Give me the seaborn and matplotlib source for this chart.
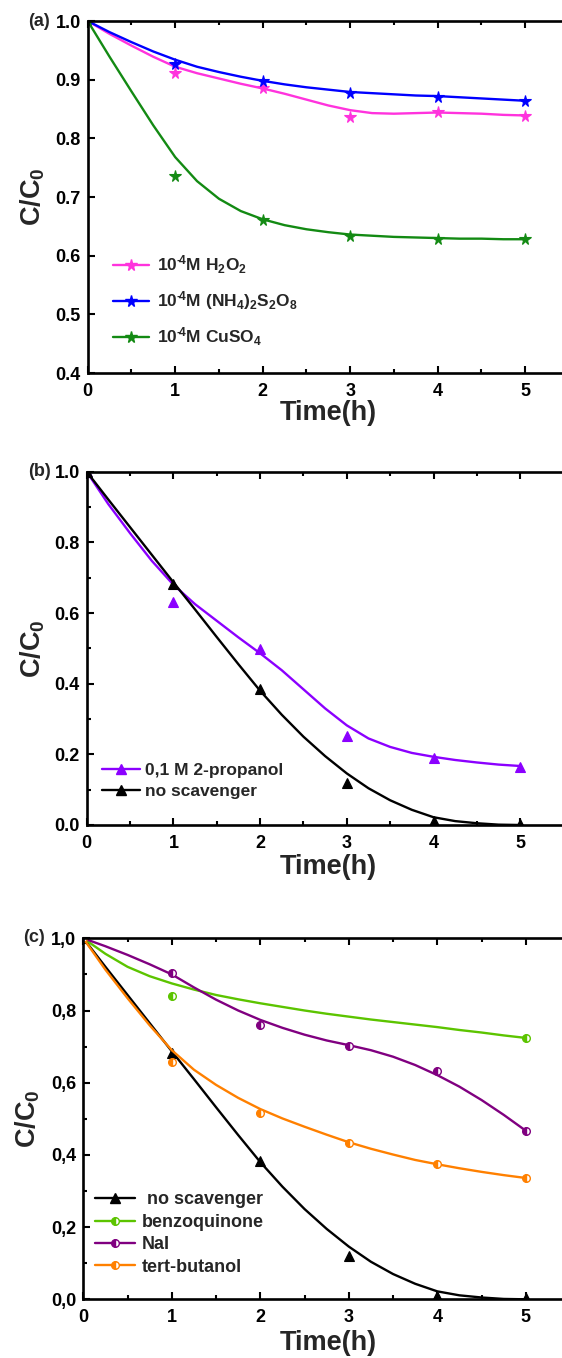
import matplotlib
matplotlib.use("Agg")
import matplotlib.pyplot as plt
import seaborn as sns
from matplotlib.lines import Line2D
from matplotlib.ticker import FixedLocator, MultipleLocator, NullLocator

# ---------------- data ----------------
time_pts = [0, 1, 2, 3, 4, 5]
x_ticks = [0, 1, 2, 3, 4, 5]
x_tick_labels = ["0", "1", "2", "3", "4", "5"]
fit_t = [0, 0.25, 0.5, 0.75, 1, 1.25, 1.5, 1.75, 2, 2.25, 2.5, 2.75, 3, 3.25, 3.5, 3.75, 4, 4.25, 4.5, 4.75, 5]

# panel (a)
a_h2o2 = [1.0, 0.912, 0.886, 0.836, 0.845, 0.838]
a_nh4 = [1.0, 0.927, 0.897, 0.877, 0.871, 0.864]
a_cuso4 = [1.0, 0.735, 0.660, 0.633, 0.629, 0.628]
a_fit_h2o2 = [1.0, 0.978, 0.958, 0.939, 0.922, 0.911, 0.902, 0.893, 0.885, 0.876, 0.866, 0.856, 0.848,
              0.843, 0.842, 0.843, 0.844, 0.843, 0.842, 0.840, 0.839]
a_fit_nh4 = [1.0, 0.981, 0.964, 0.948, 0.934, 0.922, 0.913, 0.905, 0.898, 0.892, 0.887, 0.883, 0.879,
             0.877, 0.875, 0.873, 0.872, 0.870, 0.868, 0.866, 0.864]
a_fit_cuso4 = [1.0, 0.939, 0.880, 0.822, 0.768, 0.727, 0.697, 0.676, 0.662, 0.652, 0.645, 0.640, 0.636,
               0.634, 0.632, 0.631, 0.630, 0.629, 0.629, 0.628, 0.628]
a_labels = ["10$^{\u2010\\!4}$M H$_2$O$_2$", "10$^{\u2010\\!4}$M (NH$_4$)$_2$S$_2$O$_8$",
            "10$^{\u2010\\!4}$M CuSO$_4$"]
a_yticks = [0.4, 0.5, 0.6, 0.7, 0.8, 0.9, 1.0]
a_ytick_labels = ["0.4", "0.5", "0.6", "0.7", "0.8", "0.9", "1.0"]

# panel (b)
b_propanol = [1.0, 0.630, 0.497, 0.251, 0.190, 0.165]
b_none = [1.0, 0.683, 0.385, 0.120, 0.010, 0.004]
b_fit_propanol = [1.0, 0.908, 0.826, 0.748, 0.680, 0.625, 0.578, 0.531, 0.486, 0.438, 0.384, 0.330, 0.282,
                  0.245, 0.221, 0.204, 0.193, 0.184, 0.177, 0.171, 0.167]
b_fit_none = [1.0, 0.921, 0.843, 0.765, 0.687, 0.610, 0.532, 0.455, 0.380, 0.312, 0.250, 0.195, 0.146,
              0.104, 0.070, 0.043, 0.022, 0.011, 0.005, 0.001, 0.0]
b_labels = ["0,1 M 2-propanol", "no scavenger"]
b_yticks = [0.0, 0.2, 0.4, 0.6, 0.8, 1.0]
b_ytick_labels = ["0.0", "0.2", "0.4", "0.6", "0.8", "1.0"]

# panel (c)
c_none = [1.0, 0.681, 0.383, 0.119, 0.010, 0.004]
c_benzo_t = [0, 1, 5]
c_benzo = [1.0, 0.839, 0.723]
c_nai = [1.0, 0.904, 0.761, 0.702, 0.632, 0.466]
c_tbut = [1.0, 0.657, 0.516, 0.434, 0.374, 0.336]
c_fit_none = [1.0, 0.921, 0.843, 0.765, 0.687, 0.610, 0.532, 0.455, 0.380, 0.312, 0.250, 0.195, 0.146,
              0.104, 0.070, 0.043, 0.022, 0.011, 0.005, 0.001, 0.0]
c_fit_benzo = [1.0, 0.957, 0.921, 0.895, 0.875, 0.858, 0.843, 0.831, 0.820, 0.810, 0.800, 0.791, 0.783,
               0.775, 0.768, 0.761, 0.754, 0.746, 0.739, 0.731, 0.724]
c_fit_nai = [1.0, 0.978, 0.954, 0.928, 0.900, 0.864, 0.830, 0.800, 0.774, 0.752, 0.733, 0.717, 0.704,
             0.690, 0.672, 0.649, 0.621, 0.589, 0.552, 0.511, 0.467]
c_fit_tbut = [1.0, 0.913, 0.834, 0.759, 0.690, 0.636, 0.594, 0.558, 0.527, 0.501, 0.478, 0.456, 0.435,
              0.417, 0.401, 0.386, 0.374, 0.363, 0.353, 0.344, 0.336]
c_labels = [" no scavenger", "benzoquinone", "NaI", "tert-butanol"]
c_yticks = [0.0, 0.2, 0.4, 0.6, 0.8, 1.0]
c_ytick_labels = ["0,0", "0,2", "0,4", "0,6", "0,8", "1,0"]

# ---------------- style ----------------
sns.set_theme(style="ticks")
plt.rcParams["font.family"] = ["Liberation Sans", "DejaVu Sans"]
plt.rcParams["font.weight"] = "bold"
plt.rcParams["mathtext.fontset"] = "custom"
plt.rcParams["mathtext.rm"] = "Liberation Sans:bold"
plt.rcParams["mathtext.it"] = "Liberation Sans:bold"
plt.rcParams["mathtext.bf"] = "Liberation Sans:bold"
plt.rcParams["mathtext.default"] = "rm"

W, H = 562, 1358
fig = plt.figure(figsize=(W / 100, H / 100), dpi=100)

TICK_FS = 13
LABEL_FS = 19.5
LEG_FS = 12.5
LW = 1.7


def px_axes(left_px, top_px, bottom_px):
    return [left_px / W, 1 - bottom_px / H, 1 - left_px / W, (bottom_px - top_px) / H]


def style_axes(ax, xmax, ylim, yticks, ylabels, yminor):
    ax.set_xlim(0, xmax)
    ax.set_ylim(*ylim)
    ax.xaxis.set_major_locator(FixedLocator(x_ticks))
    ax.set_xticklabels(x_tick_labels)
    ax.xaxis.set_minor_locator(MultipleLocator(0.5))
    ax.yaxis.set_major_locator(FixedLocator(yticks))
    ax.set_yticklabels(ylabels)
    if yminor:
        ax.yaxis.set_minor_locator(MultipleLocator(yminor))
    else:
        ax.yaxis.set_minor_locator(NullLocator())
    for s in ["left", "bottom", "top"]:
        ax.spines[s].set_linewidth(1.9)
        ax.spines[s].set_color("black")
    ax.spines["right"].set_visible(False)
    ax.tick_params(axis="both", which="both", direction="in", top=True, right=False,
                   width=1.5, colors="black")
    ax.tick_params(axis="both", which="major", length=5)
    ax.tick_params(axis="both", which="minor", length=3)
    ax.tick_params(axis="x", which="major", pad=7, labelsize=TICK_FS)
    ax.tick_params(axis="y", which="major", pad=5, labelsize=TICK_FS)
    for t in ax.get_xticklabels() + ax.get_yticklabels():
        t.set_fontweight("bold")
    ax.set_xlabel("Time(h)", fontsize=LABEL_FS, fontweight="bold")
    ax.set_ylabel("C/C$_0$", fontsize=LABEL_FS, fontweight="bold", va="center")
    ax.set_facecolor("white")


def draw(ax, fx, fy, px, py, color, marker, ms, half=False):
    sns.lineplot(x=fx, y=fy, ax=ax, color=color, lw=LW, sort=False, errorbar=None, legend=False)
    kw = dict(marker=marker, markersize=ms, linestyle="", markeredgecolor=color, markerfacecolor=color)
    if half:
        kw.update(fillstyle="left", markerfacecoloralt="white", markeredgewidth=1.0)
    else:
        kw.update(markeredgewidth=0.8)
    sns.lineplot(x=px, y=py, ax=ax, color=color, sort=False, errorbar=None, legend=False, **kw)


def handle(color, marker, ms, half=False):
    kw = dict(color=color, lw=LW, marker=marker, markersize=ms, markeredgecolor=color,
              markerfacecolor=color)
    if half:
        kw.update(fillstyle="left", markerfacecoloralt="white", markeredgewidth=1.0)
    return Line2D([], [], **kw)


# ---------------- panel (a) ----------------
col_a = ["#FF33DD", "#0000FF", "#138A13"]
axa = fig.add_axes(px_axes(87.7, 21, 373))
draw(axa, fit_t, a_fit_h2o2, time_pts, a_h2o2, col_a[0], "*", 8.5)
draw(axa, fit_t, a_fit_nh4, time_pts, a_nh4, col_a[1], "*", 8.5)
draw(axa, fit_t, a_fit_cuso4, time_pts, a_cuso4, col_a[2], "*", 8.5)
style_axes(axa, 474.3 / 87.5, (0.4, 1.0), a_yticks, a_ytick_labels, None)
axa.legend([handle(c, "*", 8.5) for c in col_a], a_labels, loc="center left",
           bbox_to_anchor=(0.053, 0.205), frameon=False,
           prop={"weight": "bold", "size": LEG_FS}, handlelength=2.1, handletextpad=0.45,
           labelspacing=0.75, borderpad=0, borderaxespad=0)

# ---------------- panel (b) ----------------
col_b = ["#8B00FF", "#000000"]
axb = fig.add_axes(px_axes(86.7, 471.7, 825))
draw(axb, fit_t, b_fit_propanol, time_pts, b_propanol, col_b[0], "^", 7)
draw(axb, fit_t, b_fit_none, time_pts, b_none, col_b[1], "^", 7)
style_axes(axb, 475.3 / 86.7, (0.0, 1.0), b_yticks, b_ytick_labels, 0.1)
axb.legend([handle(c, "^", 7) for c in col_b], b_labels, loc="center left",
           bbox_to_anchor=(0.032, 0.1245), frameon=False,
           prop={"weight": "bold", "size": LEG_FS}, handlelength=2.2, handletextpad=0.3,
           labelspacing=0.35, borderpad=0, borderaxespad=0)

# ---------------- panel (c) ----------------
col_c = ["#000000", "#5CC400", "#800080", "#FF8000"]
axc = fig.add_axes(px_axes(83.3, 938.3, 1299.3))
draw(axc, fit_t, c_fit_none, time_pts, c_none, col_c[0], "^", 7)
draw(axc, fit_t, c_fit_benzo, c_benzo_t, c_benzo, col_c[1], "o", 5.5, half=True)
draw(axc, fit_t, c_fit_nai, time_pts, c_nai, col_c[2], "o", 5.5, half=True)
draw(axc, fit_t, c_fit_tbut, time_pts, c_tbut, col_c[3], "o", 5.5, half=True)
style_axes(axc, 478.7 / 88.5, (0.0, 1.0), c_yticks, c_ytick_labels, 0.1)
axc.legend([handle(col_c[0], "^", 7)] + [handle(c, "o", 5.5, True) for c in col_c[1:]],
           c_labels, loc="center left", bbox_to_anchor=(0.0244, 0.182), frameon=False,
           prop={"weight": "bold", "size": 13}, handlelength=2.2, handletextpad=0.4,
           labelspacing=0.3, borderpad=0, borderaxespad=0)

# label positions
for ax, left_px, width_px, height_px, ylab_px, xlab_px in [
    (axa, 87.7, 474.3, 352, 33, 413 - 373),
    (axb, 86.7, 475.3, 353.3, 32.5, 867 - 825),
    (axc, 83.3, 478.7, 361, 28, 1343 - 1299.3),
]:
    ax.yaxis.set_label_coords((ylab_px - left_px) / width_px, 0.5)
    ax.xaxis.set_label_coords((328 - left_px) / width_px, -xlab_px / height_px)
    ax.xaxis.label.set_va("center")

# panel letters
fig.text(28 / W, 1 - 21 / H, "(a)", fontsize=13, fontweight="bold", ha="left", va="center")
fig.text(28 / W, 1 - 471 / H, "(b)", fontsize=13, fontweight="bold", ha="left", va="center")
fig.text(23 / W, 1 - 938 / H, "(c)", fontsize=13, fontweight="bold", ha="left", va="center")

fig.savefig("out.png", dpi=100, facecolor="white")
